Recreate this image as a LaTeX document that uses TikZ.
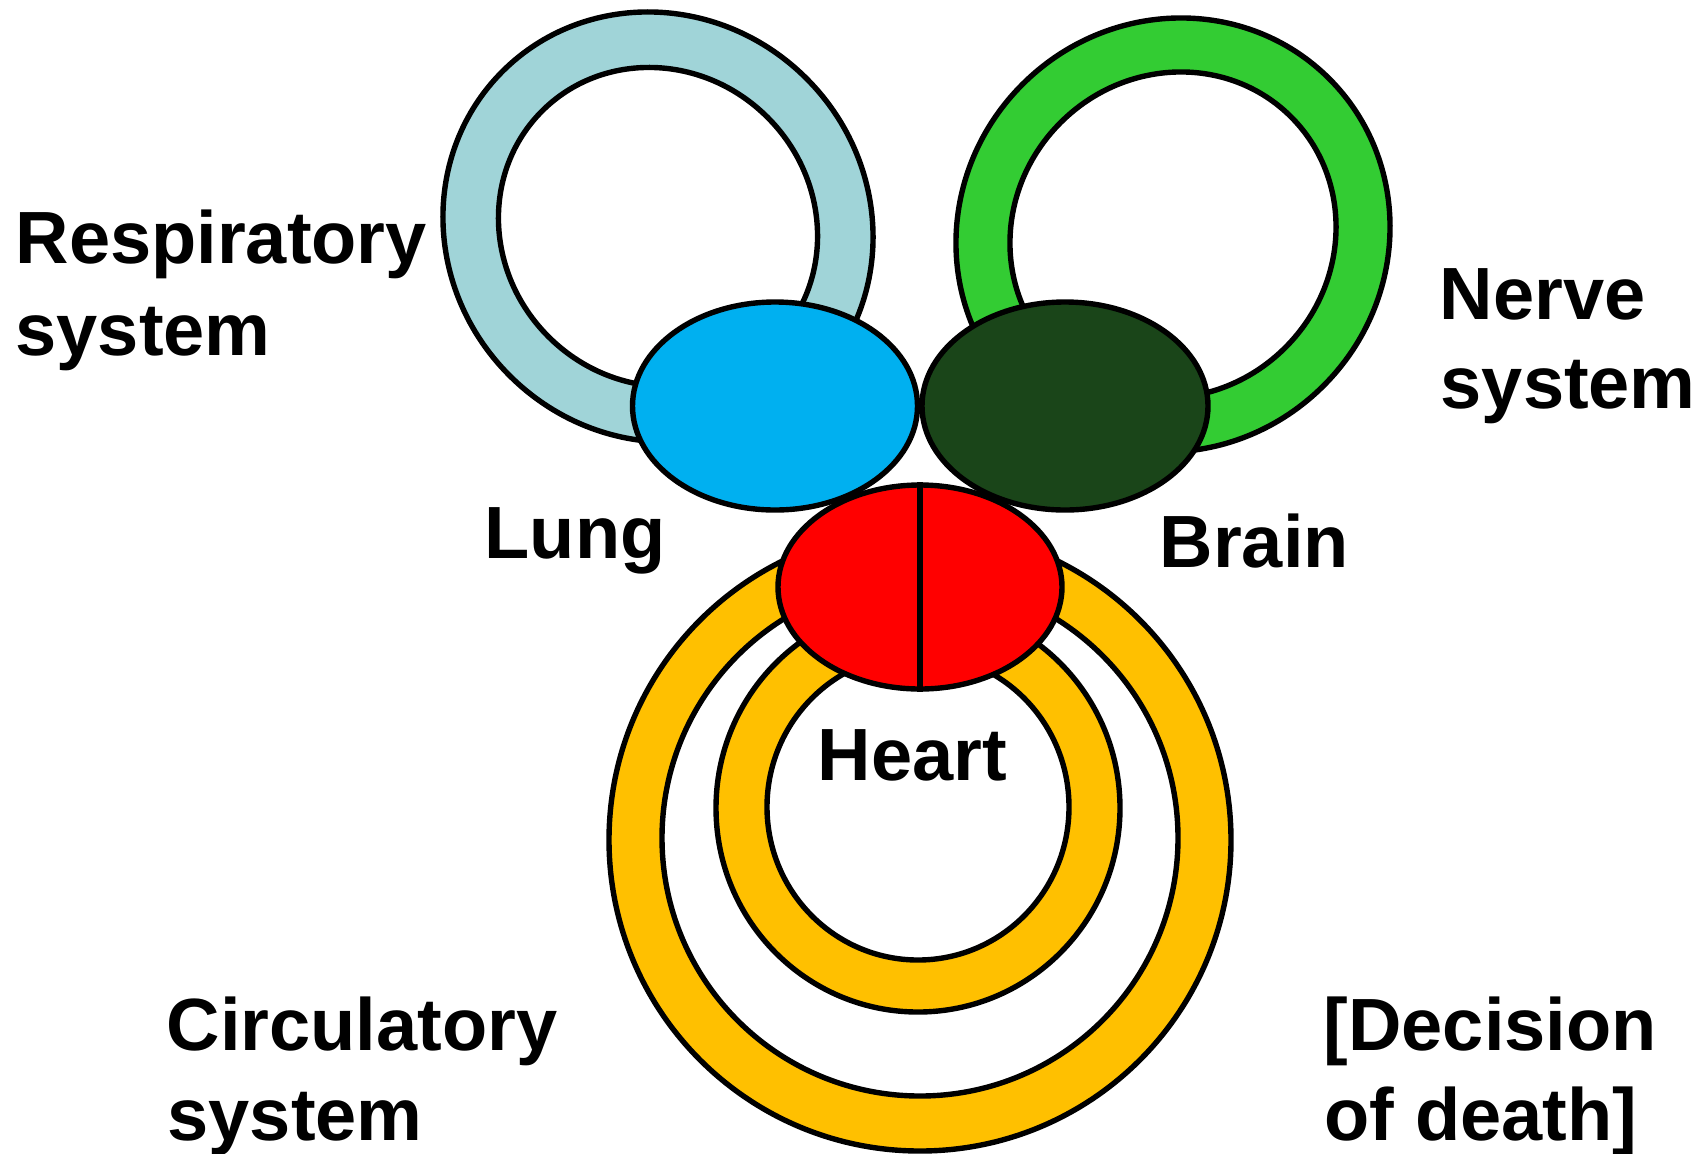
\documentclass[tikz,border=0pt]{standalone}
\usepackage{fontspec}
\setmainfont{Liberation Sans}
\usetikzlibrary{shapes.geometric}
\definecolor{respblue}{HTML}{A0D4D8}
\definecolor{lungblue}{HTML}{00B0F0}
\definecolor{nervegreen}{HTML}{33CC33}
\definecolor{braingreen}{HTML}{1A4519}
\definecolor{heartred}{HTML}{FF0000}
\definecolor{ringyellow}{HTML}{FFC000}
\begin{document}
\begin{tikzpicture}[x=0.5pt,y=-0.5pt,line width=2.7pt,
  ringpath/.style={draw=black,line width=2.7pt,even odd rule},
  organ/.style={ellipse,draw=black,line width=2.7pt,inner sep=0pt},
  lbl/.style={anchor=base west,inner sep=0pt,font=\fontsize{37}{45}\selectfont\bfseries}]
\useasboundingbox (0,0) rectangle (1708,1153);

% respiratory ring
\path[ringpath,fill=respblue,rotate around={-45:(658,227)}]
  (658,227) ellipse [x radius=220,y radius=210]
  (658,227) ellipse [x radius=164,y radius=155];
% nerve ring
\path[ringpath,fill=nervegreen,rotate around={45:(1173,235)}]
  (1173,235) ellipse [x radius=221,y radius=213]
  (1173,235) ellipse [x radius=167,y radius=159];

% lung and brain
\node[organ,fill=lungblue,minimum width=142.5pt,minimum height=104pt] (lung) at (775,406) {};
\node[organ,fill=braingreen,minimum width=143pt,minimum height=104pt] (brain) at (1065,406) {};

% circulatory rings
\path[ringpath,fill=ringyellow]
  (920,840) circle [radius=311]
  (920,838) circle [radius=258];
\path[ringpath,fill=ringyellow]
  (918,808) ellipse [x radius=202,y radius=204]
  (918,807) ellipse [x radius=151,y radius=153];

% heart
\node[organ,fill=heartred,minimum width=142pt,minimum height=102pt] (heart) at (920,587) {};
\draw[line width=3pt] (heart.north) -- (heart.south);

% labels
\node[lbl] (resp1) at (13,263) {Respiratory};
\node[lbl] (resp2) at (13,355) {system};
\node[lbl] (nerve1) at (1437,319) {Nerve};
\node[lbl] (nerve2) at (1438,408) {system};
\node[lbl] (lunglbl) at (482,558) {Lung};
\node[lbl] (brainlbl) at (1157,567) {Brain};
\node[lbl] (heartlbl) at (815,780) {Heart};
\node[lbl] (circ1) at (164,1050) {Circulatory};
\node[lbl] (circ2) at (165,1140) {system};
\node[lbl] (dec1) at (1321,1050) {[Decision};
\node[lbl] (dec2) at (1322,1140) {of death]};
\end{tikzpicture}
\end{document}
